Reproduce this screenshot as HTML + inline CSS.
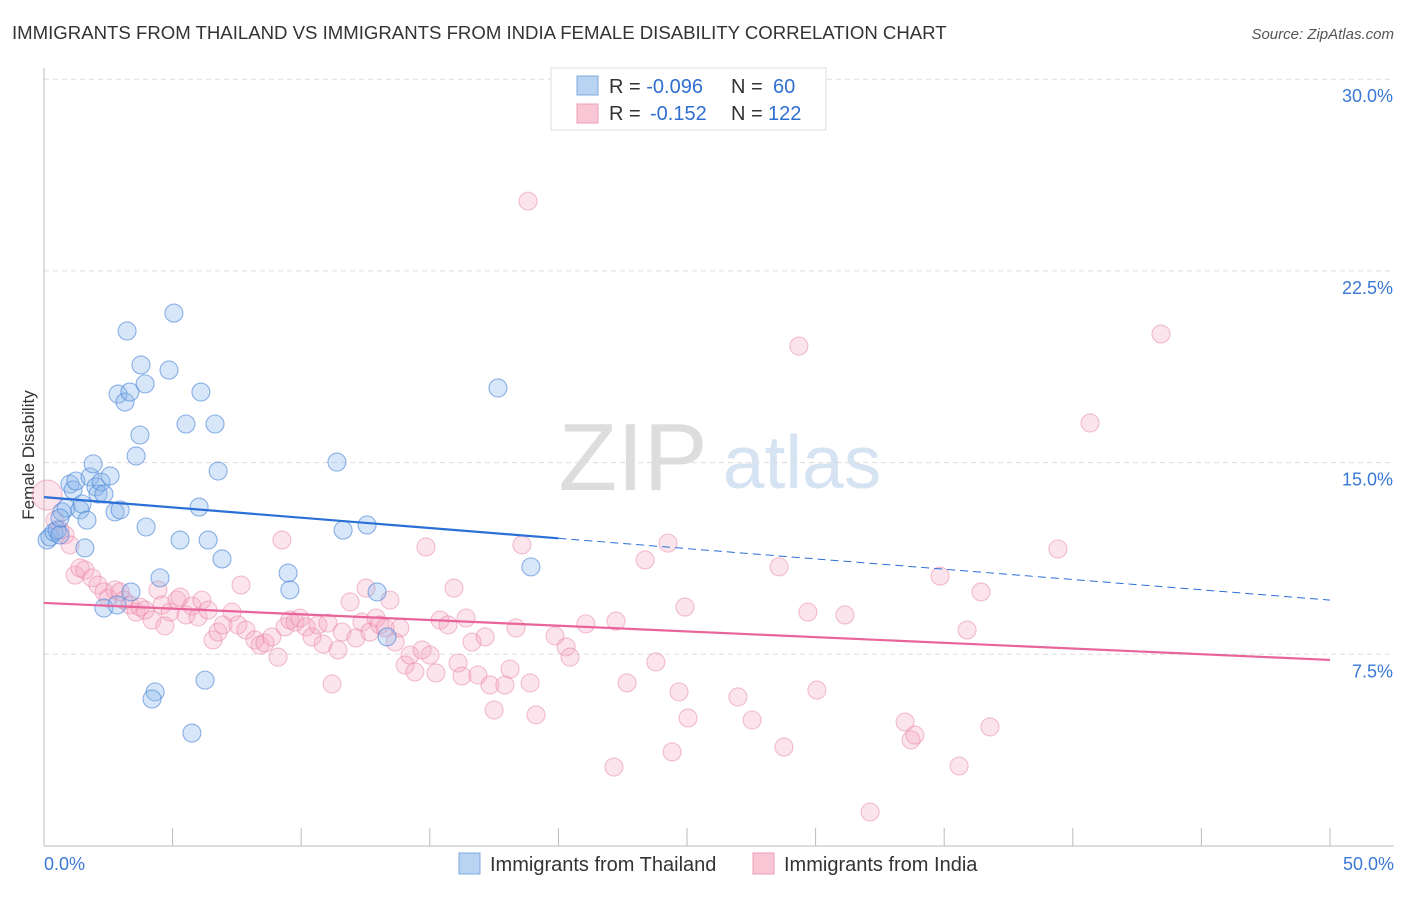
<!DOCTYPE html>
<html><head><meta charset="utf-8"><style>
body{margin:0;background:#fff;font-family:"Liberation Sans",sans-serif}
svg text{font-family:"Liberation Sans",sans-serif}
</style></head><body>
<svg id="chart" width="1406" height="892">
<text x="12" y="39" font-size="18.6" fill="#333">IMMIGRANTS FROM THAILAND VS IMMIGRANTS FROM INDIA FEMALE DISABILITY CORRELATION CHART</text>
<text x="1394" y="39" font-size="15" fill="#555" font-style="italic" text-anchor="end">Source: ZipAtlas.com</text>
<text x="34" y="455" font-size="17" fill="#333" text-anchor="middle" transform="rotate(-90 34 455)">Female Disability</text>
<g><text x="633" y="490" font-size="96" fill="#ddd" text-anchor="middle" font-family="Liberation Serif,serif">ZIP</text><text x="802" y="488" font-size="75" fill="#d5e3f3" text-anchor="middle">atlas</text></g>
<g id="grid"></g><g id="axes"></g><g id="pts"></g><g id="lines"></g>
<g>
<rect x="551" y="68" width="275" height="62" fill="#fff" stroke="#ddd"/>
<rect x="577" y="76" width="21" height="19" fill="#b9d3f3" stroke="#7fa8dd"/>
<rect x="577" y="104" width="21" height="19" fill="#f8c6d5" stroke="#eba0b8"/>
<text x="609" y="93" font-size="20" fill="#333">R = <tspan fill="#2f6fd0">-0.096</tspan><tspan x="731">N = </tspan><tspan x="773" fill="#2f6fd0">60</tspan></text>
<text x="609" y="120" font-size="20" fill="#333">R = <tspan x="650" fill="#2f6fd0">-0.152</tspan><tspan x="731">N = </tspan><tspan x="768" fill="#2f6fd0">122</tspan></text>
</g>
<g>
<rect x="459" y="853" width="21" height="21" fill="#b9d3f3" stroke="#7fa8dd"/>
<text x="490" y="871" font-size="20" fill="#333">Immigrants from Thailand</text>
<rect x="753" y="853" width="21" height="21" fill="#f8c6d5" stroke="#eba0b8"/>
<text x="784" y="871" font-size="20" fill="#333">Immigrants from India</text>
</g>
</svg>
<script>
const yTicks=[7.5,15,22.5,30];
const yTickLabels=["7.5%","15.0%","22.5%","30.0%"];
const xTickLabels=["0.0%","50.0%"];
const thaiX=[0.12,0.23,0.39,0.51,0.62,0.70,0.86,1.01,1.13,1.24,1.40,1.48,1.59,1.67,1.79,1.91,2.02,2.10,2.22,2.33,2.57,2.76,2.96,2.33,2.84,3.38,3.23,2.88,3.15,3.34,3.77,3.93,3.73,3.58,3.97,4.51,4.32,4.20,4.86,5.05,5.52,5.29,5.75,6.03,6.10,6.26,6.38,6.65,6.77,6.92,9.49,9.56,11.39,11.63,12.56,12.95,13.34,17.65,18.93,0.62];
const thaiY=[11.97,12.09,12.28,12.36,12.17,13.07,13.22,14.16,13.93,14.28,13.15,13.38,11.66,12.75,14.44,14.95,14.05,13.77,14.24,13.77,14.48,13.07,13.15,9.31,9.43,9.94,20.15,17.68,17.37,17.76,18.82,18.08,16.08,15.26,12.48,10.49,6.03,5.75,18.62,20.85,16.51,11.97,4.42,13.26,17.76,6.49,11.97,16.51,14.67,11.23,10.68,10.02,15.02,12.36,12.56,9.94,8.18,17.92,10.92,12.83];
const indiaX=[0.12,0.43,0.62,0.82,1.01,1.21,1.40,1.59,1.87,2.10,2.33,2.49,2.76,2.96,3.11,3.34,3.58,3.73,3.93,4.20,4.43,4.59,4.70,4.90,5.17,5.29,5.52,5.75,5.99,6.14,6.38,6.57,6.77,6.96,7.31,7.54,7.66,7.85,8.20,8.40,8.59,8.86,9.10,9.25,9.37,9.56,9.76,9.95,10.19,10.42,10.65,10.85,11.04,11.20,11.43,11.59,11.90,12.13,12.36,12.52,12.67,12.91,13.06,13.26,13.45,13.65,13.84,14.04,14.23,14.42,14.70,14.85,15.01,15.24,15.40,15.71,15.94,16.10,16.25,16.41,16.64,16.87,17.15,17.34,17.50,17.92,18.12,18.35,18.58,18.90,19.13,18.82,19.87,20.30,20.45,21.07,22.16,22.24,22.67,23.37,23.79,24.26,24.42,24.69,25.04,24.92,26.98,27.53,28.58,28.77,29.35,29.70,30.05,31.14,32.12,33.48,33.71,33.86,34.84,35.58,35.89,36.43,36.78,39.42,40.67,43.43];
const indiaY=[13.73,12.75,12.36,12.17,11.78,10.60,10.88,10.80,10.49,10.21,9.94,9.70,10.02,9.94,9.62,9.43,9.15,9.35,9.23,8.84,10.02,9.43,8.61,9.15,9.62,9.74,9.04,9.39,8.96,9.62,9.23,8.06,8.37,8.65,9.15,8.65,10.21,8.45,8.06,7.86,7.94,8.18,7.39,11.97,8.57,8.84,8.76,8.92,8.57,8.18,8.65,7.90,8.72,6.34,7.67,8.37,9.55,8.14,8.76,10.09,8.37,8.92,8.65,8.53,9.62,7.98,8.53,7.08,7.47,6.81,7.67,11.70,7.47,6.77,8.84,8.65,10.09,7.16,6.65,8.92,7.98,6.69,8.18,6.30,5.32,6.30,6.92,8.53,11.78,6.38,5.13,25.23,8.22,7.79,7.39,8.69,3.09,8.80,6.38,11.19,7.20,11.85,3.68,6.03,5.01,9.35,5.83,4.93,10.92,3.87,19.56,9.15,6.10,9.04,1.33,4.85,4.15,4.34,10.56,3.13,8.45,9.94,4.66,11.62,16.55,20.03];
const thaiTrend=[13.65,9.62];
const indiaTrend=[9.51,7.28];
const NS="http://www.w3.org/2000/svg";
const X0=44,X1=1330,Y0=846,YPER=25.56;
function sx(v){return X0+(X1-X0)*v/50;}
function sy(v){return Y0-v*YPER;}
function mk(tag,attrs,parent){const e=document.createElementNS(NS,tag);for(const k in attrs)e.setAttribute(k,attrs[k]);document.getElementById(parent).appendChild(e);return e;}
yTicks.forEach((t,i)=>{
 const g=mk('line',{x1:X0,x2:1394,y1:sy(t),y2:sy(t),stroke:'#ddd','stroke-dasharray':'5,4'},'grid');
 
 
 const tx=mk('text',{x:1393,y:sy(t)+23,'font-size':18,fill:'#3a78d4','text-anchor':'end'},'axes');
 tx.textContent=yTickLabels[i];
 
 
});
const ax=mk('line',{x1:X0,x2:X0,y1:68,y2:Y0,stroke:'#bbb'},'axes');


const bx=mk('line',{x1:X0,x2:1394,y1:Y0,y2:Y0,stroke:'#bbb'},'axes');


for(let i=0;i<=10;i++){const t=mk('line',{x1:sx(i*5),x2:sx(i*5),y1:828,y2:Y0,stroke:'#bbb'},'axes');
 
 }
[[0,'start',44],[50,'end',1394]].forEach((d,i)=>{const t=mk('text',{x:d[2],y:870,'font-size':18,fill:'#3a78d4','text-anchor':d[1]},'axes');t.textContent=xTickLabels[i];
 
 });
indiaX.forEach((x,i)=>{const c=mk('circle',{cx:sx(x),cy:sy(indiaY[i]),r:i===0?15:9,fill:'rgba(244,165,192,0.3)',stroke:'rgba(232,130,165,0.5)','stroke-width':1.1},'pts');
 
 });
thaiX.forEach((x,i)=>{const c=mk('circle',{cx:sx(x),cy:sy(thaiY[i]),r:9,fill:'rgba(140,182,235,0.35)',stroke:'rgba(70,130,215,0.6)','stroke-width':1.1},'pts');
 
 });
const tAt=v=>thaiTrend[0]+(thaiTrend[1]-thaiTrend[0])*v/50;
const l1=mk('line',{x1:sx(0),y1:sy(thaiTrend[0]),x2:sx(20),y2:sy(tAt(20)),stroke:'#2a6fd6','stroke-width':2.2},'lines');


const l2=mk('line',{x1:sx(20),y1:sy(tAt(20)),x2:sx(50),y2:sy(thaiTrend[1]),stroke:'#2a6fd6','stroke-width':1,'stroke-dasharray':'8,5'},'lines');


const l3=mk('line',{x1:sx(0),y1:sy(indiaTrend[0]),x2:sx(50),y2:sy(indiaTrend[1]),stroke:'#e8649a','stroke-width':2.2},'lines');


</script>
</body></html>
